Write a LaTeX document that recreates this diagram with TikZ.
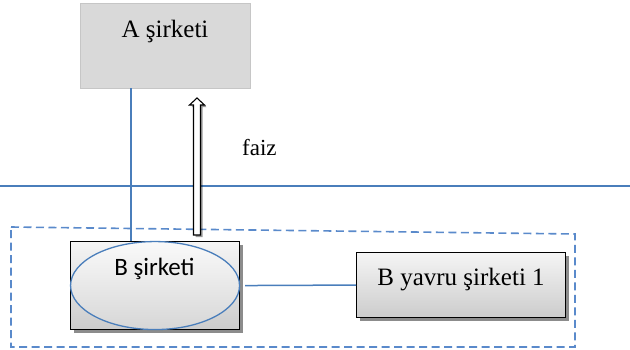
\documentclass[tikz,border=0pt]{standalone}
\usepackage{fontspec}
\setmainfont{Liberation Serif}
\newfontfamily\calibri{Carlito}
\usetikzlibrary{shadows,shapes.geometric}
\definecolor{linkblue}{HTML}{4A7EBB}
\definecolor{frameblue}{HTML}{5A8ACB}
\definecolor{boxgray}{HTML}{D9D9D9}
\begin{document}
\begin{tikzpicture}[x=1pt,y=-1pt,
  bigtext/.style={font=\fontsize{25}{30}\selectfont, inner sep=0pt},
  firm/.style={draw=black, line width=1.1pt, inner sep=0pt,
    top color=gray!8, bottom color=gray!40,
    drop shadow={shadow xshift=3pt, shadow yshift=-3pt, opacity=0.45, fill=black}},
  link/.style={draw=linkblue, line width=1.5pt}]
\useasboundingbox (0,0) rectangle (630,349);

% parent company
\node[draw=gray!45, fill=boxgray, minimum width=170pt, minimum height=85pt,
      inner sep=0pt, anchor=north west] (A) at (80,3) {};
\node[bigtext, anchor=base] (Atext) at (165,37) {A şirketi};

% boundary line and dashed group frame
\coordinate (lineL) at (0,186);
\coordinate (lineR) at (630,186);
\draw[link] (lineL) -- (lineR);
\draw[draw=frameblue, line width=1.6pt, dash pattern=on 8pt off 4.5pt]
  (11,227) -- (575,234) -- (575,347) -- (11,347) -- cycle;

% company B with its ellipse
\node[firm, minimum width=169pt, minimum height=88pt, anchor=north west] (B) at (70,241) {};
\node[ellipse, draw=linkblue, line width=1.3pt, inner sep=0pt,
      minimum width=169pt, minimum height=88pt,
      top color=gray!4, bottom color=gray!32] (Bell) at (B.center) {};
\node[bigtext, font=\calibri\fontsize{25}{30}\selectfont, anchor=base] (Btext) at (154.5,275) {B şirketi};

% subsidiary
\node[firm, minimum width=209pt, minimum height=65pt, anchor=north west] (Y) at (356,252) {};
\node[bigtext, anchor=base] (Ytext) at (Y.center |- 0,285) {B yavru şirketi 1};

% ownership and subsidiary links
\draw[link] (131,0 |- A.south) -- (131,0 |- B.north);
\draw[link] (B.east) ++(5pt,0) -- (Y.west);

% interest flow: hollow block arrow
\draw[fill=white, draw=black, line width=1.1pt,
      drop shadow={shadow xshift=2pt, shadow yshift=-2pt, opacity=0.4, fill=black}]
  (193.5,235) -- (193.5,105) -- (189.5,105) -- (197,98) -- (204.5,105)
  -- (200.5,105) -- (200.5,235) -- cycle;
\node[font=\fontsize{23}{28}\selectfont, inner sep=0pt, anchor=base west] (faiz) at (242,155) {faiz};
\end{tikzpicture}
\end{document}
